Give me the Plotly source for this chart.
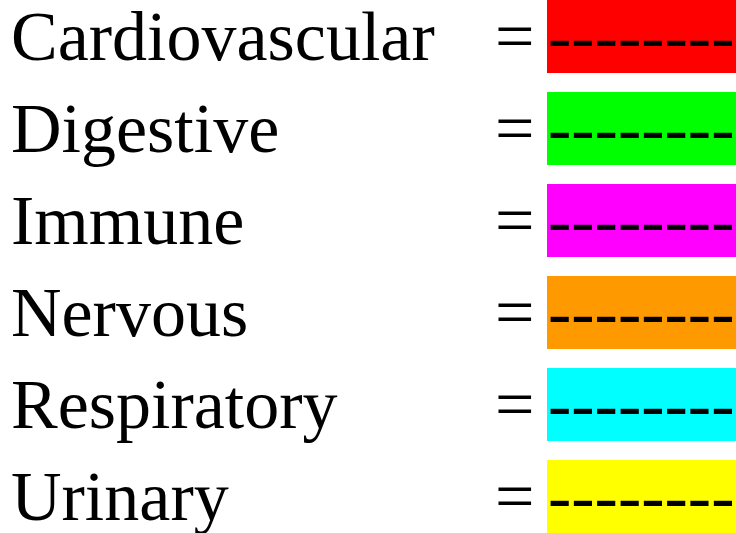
import plotly.graph_objects as go

systems = ["Cardiovascular", "Digestive", "Immune", "Nervous", "Respiratory", "Urinary"]
colors = ["#ff0000", "#00ff00", "#ff00ff", "#ff9900", "#00ffff", "#ffff00"]
dash_text = "--------"

W, H = 736, 533
FS = 70
FONT = "Liberation Serif"
ROW = 92
BOX_H = 73
BASE = 60  # baseline offset within row

fig = go.Figure()
fig.add_trace(go.Scatter(x=[0], y=[0], mode="markers", marker=dict(opacity=0), hoverinfo="skip", showlegend=False))

shapes = []
annotations = []
for i, (name, col) in enumerate(zip(systems, colors)):
    top = i * ROW
    shapes.append(dict(type="rect", xref="x", yref="y", x0=547, x1=W + 5, y0=top, y1=top + BOX_H,
                       fillcolor=col, line=dict(width=0), layer="below"))
    base = top + BASE
    common = dict(xref="x", yref="y", xanchor="left", yanchor="middle", showarrow=False,
                  borderpad=0, font=dict(family=FONT, size=FS, color="black"))
    annotations.append(dict(x=10, y=base - 24, text=name, **common))
    annotations.append(dict(x=494, y=base - 24, text="=", **common))
    annotations.append(dict(x=547, y=base - 24, text=dash_text, **common))

fig.update_layout(
    width=W, height=H, margin=dict(l=0, r=0, t=0, b=0),
    paper_bgcolor="white", plot_bgcolor="white",
    xaxis=dict(range=[0, W], visible=False, fixedrange=True),
    yaxis=dict(range=[H, 0], visible=False, fixedrange=True),
    shapes=shapes, annotations=annotations, showlegend=False,
)
fig.write_html("out.html", config={"displayModeBar": False},
               post_script="document.body.style.margin='0';document.body.style.overflow='hidden';")
